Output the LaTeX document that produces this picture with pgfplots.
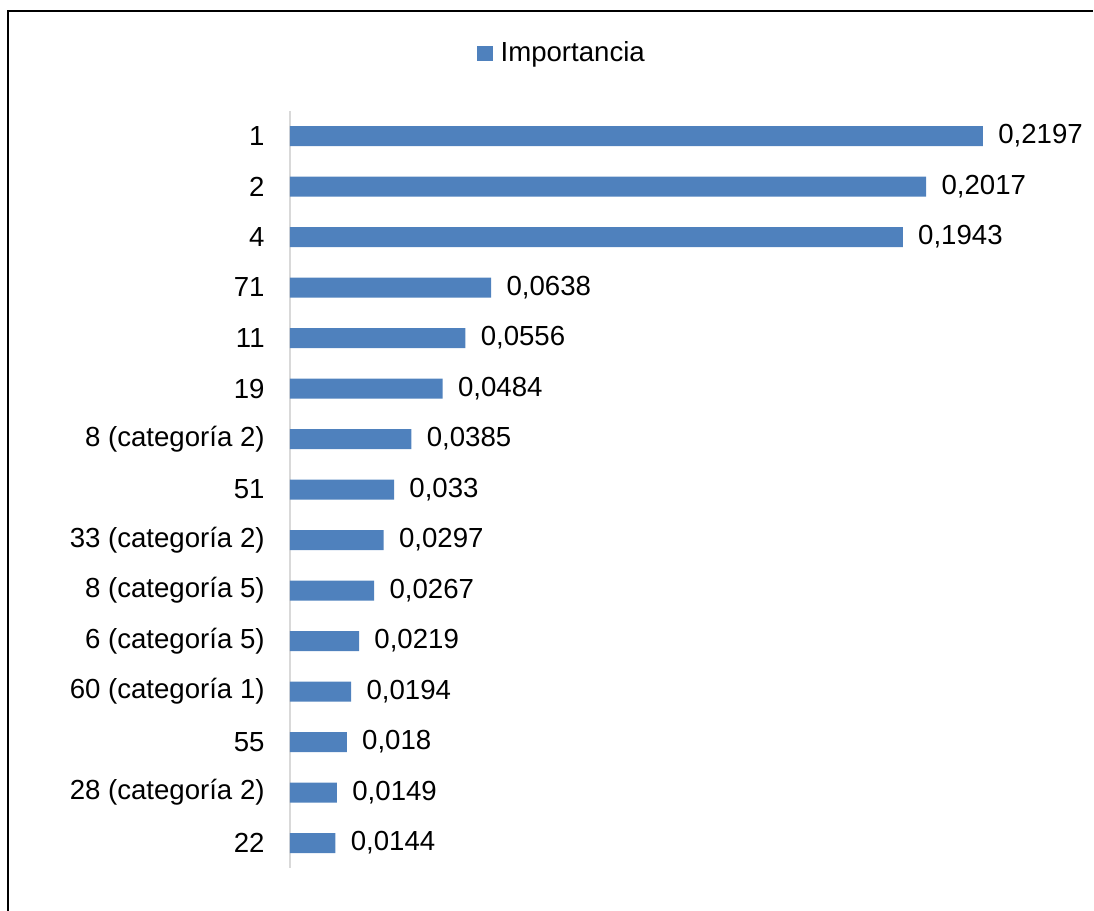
\documentclass[border=0pt]{standalone}
\usepackage{pgfplots}
\pgfplotsset{compat=1.18}
\usepackage{fontspec}
\setmainfont{Liberation Sans}
\definecolor{barblue}{HTML}{4F81BD}
\definecolor{axgray}{HTML}{D9D9D9}
\begin{document}
\fontsize{13.8}{16.5}\selectfont
\begin{tikzpicture}[x=1pt,y=1pt]
\useasboundingbox (0,0) rectangle (547,455.5);
\draw[black, line width=1pt] (4,0) -- (4,450) -- (546.5,450);
\begin{axis}[
  at={(145pt,21.375pt)}, anchor=south west,
  scale only axis,
  width=394.25pt, height=378.75pt,
  xbar, bar width=10pt,
  xmin=0, xmax=0.25,
  ymin=-0.5, ymax=14.5,
  y dir=reverse,
  axis x line=none,
  axis y line*=left,
  y axis line style={draw=axgray, line width=0.9pt, -},
  major tick length=0pt,
  ytick={0,...,14},
  yticklabels={1,2,4,71,11,19,8 (categoría 2),51,33 (categoría 2),8 (categoría 5),6 (categoría 5),60 (categoría 1),55,28 (categoría 2),22},
  yticklabel style={anchor=east, inner sep=0pt, xshift=-12.5pt},
  point meta=explicit symbolic,
  nodes near coords,
  nodes near coords style={anchor=west, inner sep=0pt, xshift=7.5pt},
  legend style={draw=none, fill=none, at={(0.2372,1.0755)}, anchor=west, inner sep=0pt,
    column sep=3pt, nodes={inner sep=1pt}},
  legend image code/.code={\fill[barblue] (0pt,-3.8pt) rectangle (7.6pt,3.8pt);},
]
\addplot[fill=barblue, draw=none] table[x=x, y=y, meta=lab] {
y x lab
0 0.2197 0,2197
1 0.2017 0,2017
2 0.1943 0,1943
3 0.0638 0,0638
4 0.0556 0,0556
5 0.0484 0,0484
6 0.0385 0,0385
7 0.033 0,033
8 0.0297 0,0297
9 0.0267 0,0267
10 0.0219 0,0219
11 0.0194 0,0194
12 0.018 0,018
13 0.0149 0,0149
14 0.0144 0,0144
};
\addlegendentry{Importancia}
\end{axis}
\end{tikzpicture}
\end{document}
